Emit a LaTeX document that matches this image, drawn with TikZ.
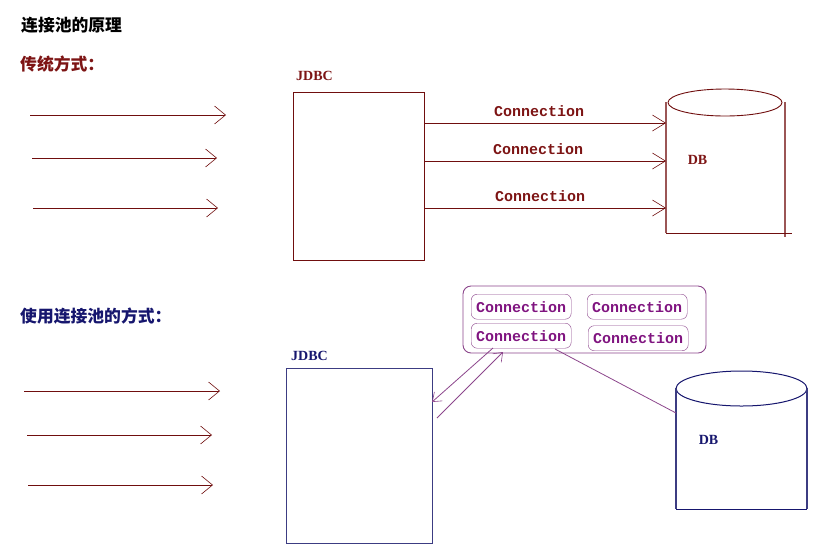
\documentclass[tikz,border=0pt]{standalone}
\usepackage{fontspec}
\newfontfamily\cjk{Noto Sans CJK SC}
\newfontfamily\serifb{Liberation Serif}
\newfontfamily\monob{Liberation Mono}
\usetikzlibrary{arrows.meta}
\definecolor{dred}{RGB}{112,14,14}
\definecolor{dredtxt}{RGB}{125,20,20}
\definecolor{navy}{RGB}{22,22,110}
\definecolor{navyline}{RGB}{60,60,130}
\definecolor{purp}{RGB}{128,20,128}
\definecolor{purpline}{RGB}{140,70,140}
\tikzset{
  heading/.style={anchor=west, inner sep=0pt, font=\cjk\bfseries\fontsize{16.8}{18}\selectfont},
  jdbclabel/.style={anchor=west, inner sep=0pt, font=\serifb\bfseries\fontsize{14}{15}\selectfont},
  dblabel/.style={inner sep=0pt, font=\serifb\bfseries\fontsize{14}{15}\selectfont},
  connlabel/.style={inner sep=0pt, text=dredtxt, font=\monob\bfseries\fontsize{15}{16}\selectfont},
  poolconn/.style={draw=purpline, rounded corners=6pt, minimum width=100pt, minimum height=25pt,
     inner sep=0pt, text=purp, font=\monob\bfseries\fontsize{15}{16}\selectfont, anchor=north west},
  box/.style={draw, inner sep=0pt, outer sep=0pt, anchor=north west},
  ghost/.style={inner sep=0pt, outer sep=0pt, anchor=north west},
  inarrow/.style={draw=dred, line width=0.9pt, -{Straight Barb[length=11pt,width=18pt,line width=0.6pt]}},
  connarrow/.style={draw=dred, line width=0.9pt, -{Straight Barb[length=13pt,width=16pt,line width=0.6pt]}},
  poolarrow/.style={draw=purpline, line width=0.8pt, -{Straight Barb[length=8pt,width=12pt,line width=0.6pt]}},
}
\begin{document}
\begin{tikzpicture}[x=1pt,y=-1pt]
\useasboundingbox[fill=white] (0,0) rectangle (837,550);

% ---------- headings ----------
\node[heading, text=black] (title) at (21,25) {连接池的原理};
\node[heading, text=dredtxt] (trad) at (20,64) {传统方式：};
\node[heading, text=navy] (pooled) at (20,316) {使用连接池的方式：};

% ---------- traditional ----------
\node[jdbclabel, text=dredtxt] (jdbcAlab) at (296,75.5) {JDBC};
\node[box, draw=dred, line width=0.9pt, minimum width=131pt, minimum height=168pt] (jdbcA) at (293,92) {};

\coordinate (a1s) at (30,115);  \coordinate (a1e) at (226,115);
\coordinate (a2s) at (32,158);  \coordinate (a2e) at (217,158);
\coordinate (a3s) at (33,208);  \coordinate (a3e) at (218,208);
\draw[inarrow] (a1s) -- (a1e);
\draw[inarrow] (a2s) -- (a2e);
\draw[inarrow] (a3s) -- (a3e);

% DB cylinder (top)
\node[ghost, minimum width=119pt, minimum height=131pt] (dbA) at (666,102) {};
\draw[dred, line width=0.9pt] (725,102.5) ellipse [x radius=57, y radius=13.5];
\draw[dred!70, line width=1.1pt] (dbA.north west) -- (666,233);
\draw[dred!70, line width=1.1pt] (dbA.north east) -- (785,237);
\draw[dred, line width=0.9pt] (666,233) -- (792,233);
\node[dblabel, text=dredtxt] (dbAlab) at (697.5,159.5) {DB};

\draw[connarrow] (jdbcA.east |- 0,123) -- (dbA.west |- 0,123);
\draw[connarrow] (jdbcA.east |- 0,161) -- (dbA.west |- 0,161);
\draw[connarrow] (jdbcA.east |- 0,208) -- (dbA.west |- 0,208);
\node[connlabel] (c1) at (539,111) {Connection};
\node[connlabel] (c2) at (538,149) {Connection};
\node[connlabel] (c3) at (540,196) {Connection};

% ---------- with pool ----------
\node[jdbclabel, text=navy] (jdbcBlab) at (291,355.5) {JDBC};
\node[box, draw=navyline, line width=1pt, minimum width=146pt, minimum height=175pt] (jdbcB) at (286,368) {};

\coordinate (b1s) at (24,391);  \coordinate (b1e) at (220,391);
\coordinate (b2s) at (27,435);  \coordinate (b2e) at (212,435);
\coordinate (b3s) at (28,485);  \coordinate (b3e) at (213,485);
\draw[inarrow] (b1s) -- (b1e);
\draw[inarrow] (b2s) -- (b2e);
\draw[inarrow] (b3s) -- (b3e);

\node[box, draw=purpline, line width=0.9pt, rounded corners=8pt, minimum width=243pt, minimum height=67pt] (pool) at (463,286) {};
\node[poolconn] (pc1) at (471,294) {Connection};
\node[poolconn] (pc2) at (587,294) {Connection};
\node[poolconn] (pc3) at (471,323) {Connection};
\node[poolconn] (pc4) at (588,325.5) {Connection};

% DB cylinder (bottom)
\node[ghost, minimum width=131pt, minimum height=121pt] (dbB) at (676,388) {};
\draw[navy, line width=1pt] (741.5,388.5) ellipse [x radius=65.5, y radius=17.5];
\draw[navyline, line width=1.2pt] (dbB.north west) -- (dbB.south west);
\draw[navyline, line width=1.2pt] (dbB.north east) -- (dbB.south east);
\draw[navy, line width=1pt] (dbB.south west) -- (dbB.south east);
\node[dblabel, text=navy] (dbBlab) at (708.5,439.5) {DB};

\coordinate (p1s) at (493,348);
\coordinate (p2e) at (503,352);
\coordinate (p2s) at (437,418);
\coordinate (dbcon) at (555,349);
\draw[poolarrow] (p1s) -- (jdbcB.east |- 0,402);
\draw[poolarrow] (p2s) -- (p2e);
\draw[purpline, line width=0.8pt] (dbcon) -- (dbB.west |- 0,413);
\end{tikzpicture}
\end{document}
